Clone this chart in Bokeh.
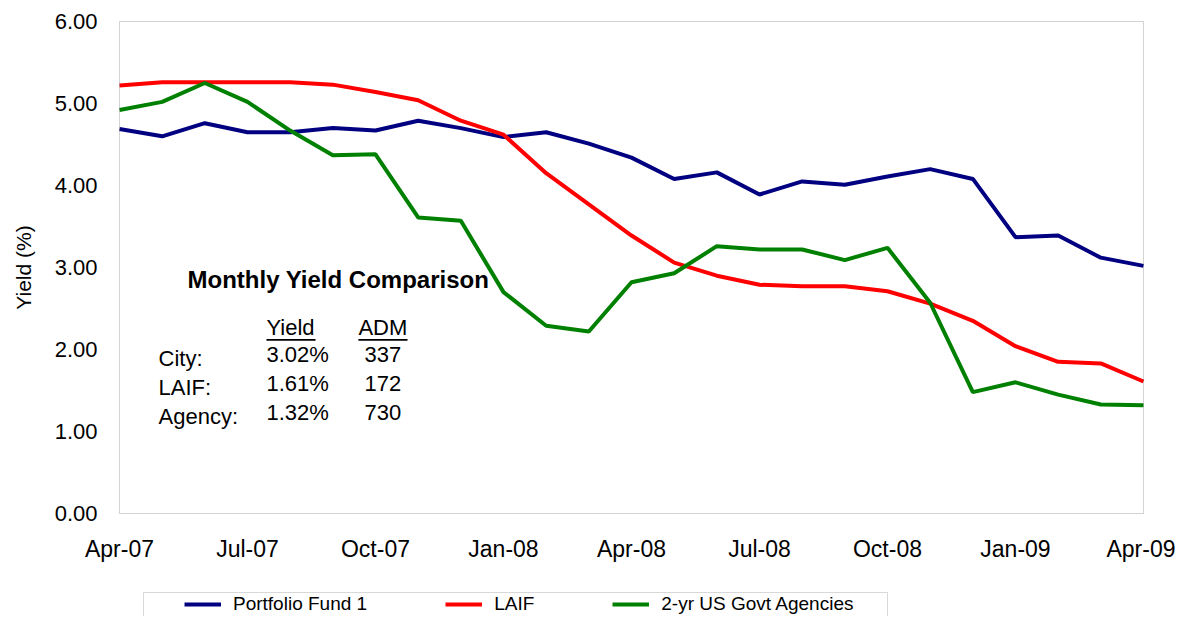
import math
from bokeh.plotting import figure
from bokeh.models import (FixedTicker, NumeralTickFormatter, Legend, LegendItem,
                          Label, BoxAnnotation, Range1d)
from bokeh.embed import file_html
from bokeh.resources import INLINE

# ---------------- data ----------------
months = ["Apr-07", "May-07", "Jun-07", "Jul-07", "Aug-07", "Sep-07", "Oct-07",
          "Nov-07", "Dec-07", "Jan-08", "Feb-08", "Mar-08", "Apr-08", "May-08",
          "Jun-08", "Jul-08", "Aug-08", "Sep-08", "Oct-08", "Nov-08", "Dec-08",
          "Jan-09", "Feb-09", "Mar-09", "Apr-09"]
portfolio_fund_1 = [4.69, 4.60, 4.76, 4.65, 4.65, 4.70, 4.67, 4.79, 4.70, 4.59,
                    4.65, 4.51, 4.34, 4.08, 4.16, 3.89, 4.05, 4.01, 4.11, 4.20,
                    4.08, 3.37, 3.39, 3.12, 3.02]
laif = [5.22, 5.26, 5.26, 5.26, 5.26, 5.23, 5.14, 5.04, 4.79, 4.62,
        4.15, 3.77, 3.39, 3.06, 2.90, 2.79, 2.77, 2.77, 2.71, 2.56,
        2.35, 2.04, 1.85, 1.83, 1.61]
govt_agencies = [4.92, 5.02, 5.25, 5.02, 4.67, 4.37, 4.38, 3.61, 3.57, 2.70,
                 2.29, 2.22, 2.82, 2.93, 3.26, 3.22, 3.22, 3.09, 3.24, 2.57,
                 1.48, 1.60, 1.45, 1.33, 1.32]
series_names = ["Portfolio Fund 1", "LAIF", "2-yr US Govt Agencies"]
y_ticks = [0, 1, 2, 3, 4, 5, 6]
x_tick_step = 3

summary_title = "Monthly Yield Comparison"
summary_headers = ["Yield", "ADM"]
summary_names = ["City:", "LAIF:", "Agency:"]
summary_yield = ["3.02%", "1.61%", "1.32%"]
summary_adm = ["337", "172", "730"]

# ---------------- figure ----------------
FONT = "Liberation Sans"
W, H = 1175, 616
x = list(range(len(months)))
x_min, x_max = 0, len(months) - 1
y_min, y_max = 0, 6
# plot-area placement in pixels (the frame covers the whole figure so that
# axis labels and the legend below the plot area are not clipped)
PX_L, PX_R, PX_T, PX_B = 119, 1143, 21, 513
ux = (PX_R - PX_L) / (x_max - x_min)
uy = (PX_B - PX_T) / (y_max - y_min)
xr = Range1d(x_min - PX_L / ux, x_max + (W - PX_R) / ux)
yr = Range1d(y_min - (H - PX_B) / uy, y_max + PX_T / uy)

p = figure(width=W, height=H, output_backend="svg", toolbar_location=None,
           x_range=xr, y_range=yr,
           min_border_left=0, min_border_right=0, min_border_top=0,
           min_border_bottom=0)
p.background_fill_color = "white"
p.border_fill_color = "white"
p.outline_line_color = None
p.xgrid.visible = False
p.ygrid.visible = False

# chart frame (plot area border)
p.add_layout(BoxAnnotation(left=x_min, right=x_max, bottom=y_min, top=y_max,
                           fill_alpha=0, line_color="#6e6e6e", line_width=1))

ticks = list(range(0, len(months), x_tick_step))
p.xaxis.ticker = FixedTicker(ticks=ticks)
p.xaxis.major_label_overrides = {i: months[i] for i in ticks}
p.xaxis.fixed_location = y_min
p.xaxis.bounds = (x_min, x_max)
p.yaxis.ticker = FixedTicker(ticks=y_ticks)
p.yaxis.formatter = NumeralTickFormatter(format="0.00")
p.yaxis.fixed_location = x_min
p.yaxis.bounds = (y_min, y_max)
for ax in (p.xaxis, p.yaxis):
    ax.axis_line_color = None
    ax.major_tick_line_color = None
    ax.minor_tick_line_color = None
    ax.major_tick_in = 0
    ax.major_tick_out = 0
    ax.major_label_text_font = FONT
    ax.major_label_text_color = "black"
p.yaxis.major_label_text_font_size = "22px"
p.xaxis.major_label_text_font_size = "23px"
p.yaxis.major_label_standoff = 22
p.xaxis.major_label_standoff = 22

# y-axis title
p.add_layout(Label(x=x_min - 96 / ux, y=(y_min + y_max) / 2, text="Yield (%)",
                   angle=math.pi / 2, text_font=FONT, text_font_size="21px",
                   text_align="center", text_baseline="middle", text_color="black"))

colors = ["#000080", "#FF0000", "#008000"]
rs = []
for ys, c in zip([portfolio_fund_1, laif, govt_agencies], colors):
    rs.append(p.line(x, ys, line_color=c, line_width=4))

# legend frame + items (below plot area)
p.add_layout(BoxAnnotation(left=x_min + 24 / ux, right=x_min + 768 / ux,
                           top=y_min - 79 / uy, bottom=yr.start - 1,
                           fill_color="white", fill_alpha=1.0,
                           line_color="#7f7f7f", line_width=1))
legend = Legend(items=[LegendItem(label=n, renderers=[r]) for n, r in zip(series_names, rs)],
                orientation="horizontal", location=(PX_L + 65, 1),
                border_line_color=None, background_fill_alpha=0,
                padding=8, spacing=78, glyph_width=37, glyph_height=20,
                label_standoff=12, label_text_font=FONT, label_text_font_size="19px",
                label_text_color="black", label_height=20, margin=0)
p.add_layout(legend, "center")

# summary inset
p.add_layout(Label(x=1.594, y=2.85, text=summary_title, text_font=FONT,
                   text_font_size="24px", text_font_style="bold",
                   text_baseline="middle", text_color="black"))
hdr_x = [3.445, 5.60]
hdr_w = [1.15, 1.15]
for hx, hw, h in zip(hdr_x, hdr_w, summary_headers):
    p.add_layout(Label(x=hx, y=2.27, text=h, text_font=FONT, text_font_size="22px",
                       text_baseline="middle", text_color="black"))
    p.add_layout(BoxAnnotation(left=hx, right=hx + hw, bottom=2.108, top=2.128,
                               fill_color="black", fill_alpha=1, line_color=None))
row_step = 29 / uy
for i, (nm, yv, adm) in enumerate(zip(summary_names, summary_yield, summary_adm)):
    yn = 1.89 - i * row_step
    yvv = yn + 0.05
    p.add_layout(Label(x=0.914, y=yn, text=nm, text_font=FONT, text_font_size="22px",
                       text_baseline="middle", text_color="black"))
    p.add_layout(Label(x=3.445, y=yvv, text=yv, text_font=FONT, text_font_size="22px",
                       text_baseline="middle", text_color="black"))
    p.add_layout(Label(x=5.74, y=yvv, text=adm, text_font=FONT, text_font_size="22px",
                       text_baseline="middle", text_color="black"))

open("out.html", "w").write(file_html(p, INLINE))
